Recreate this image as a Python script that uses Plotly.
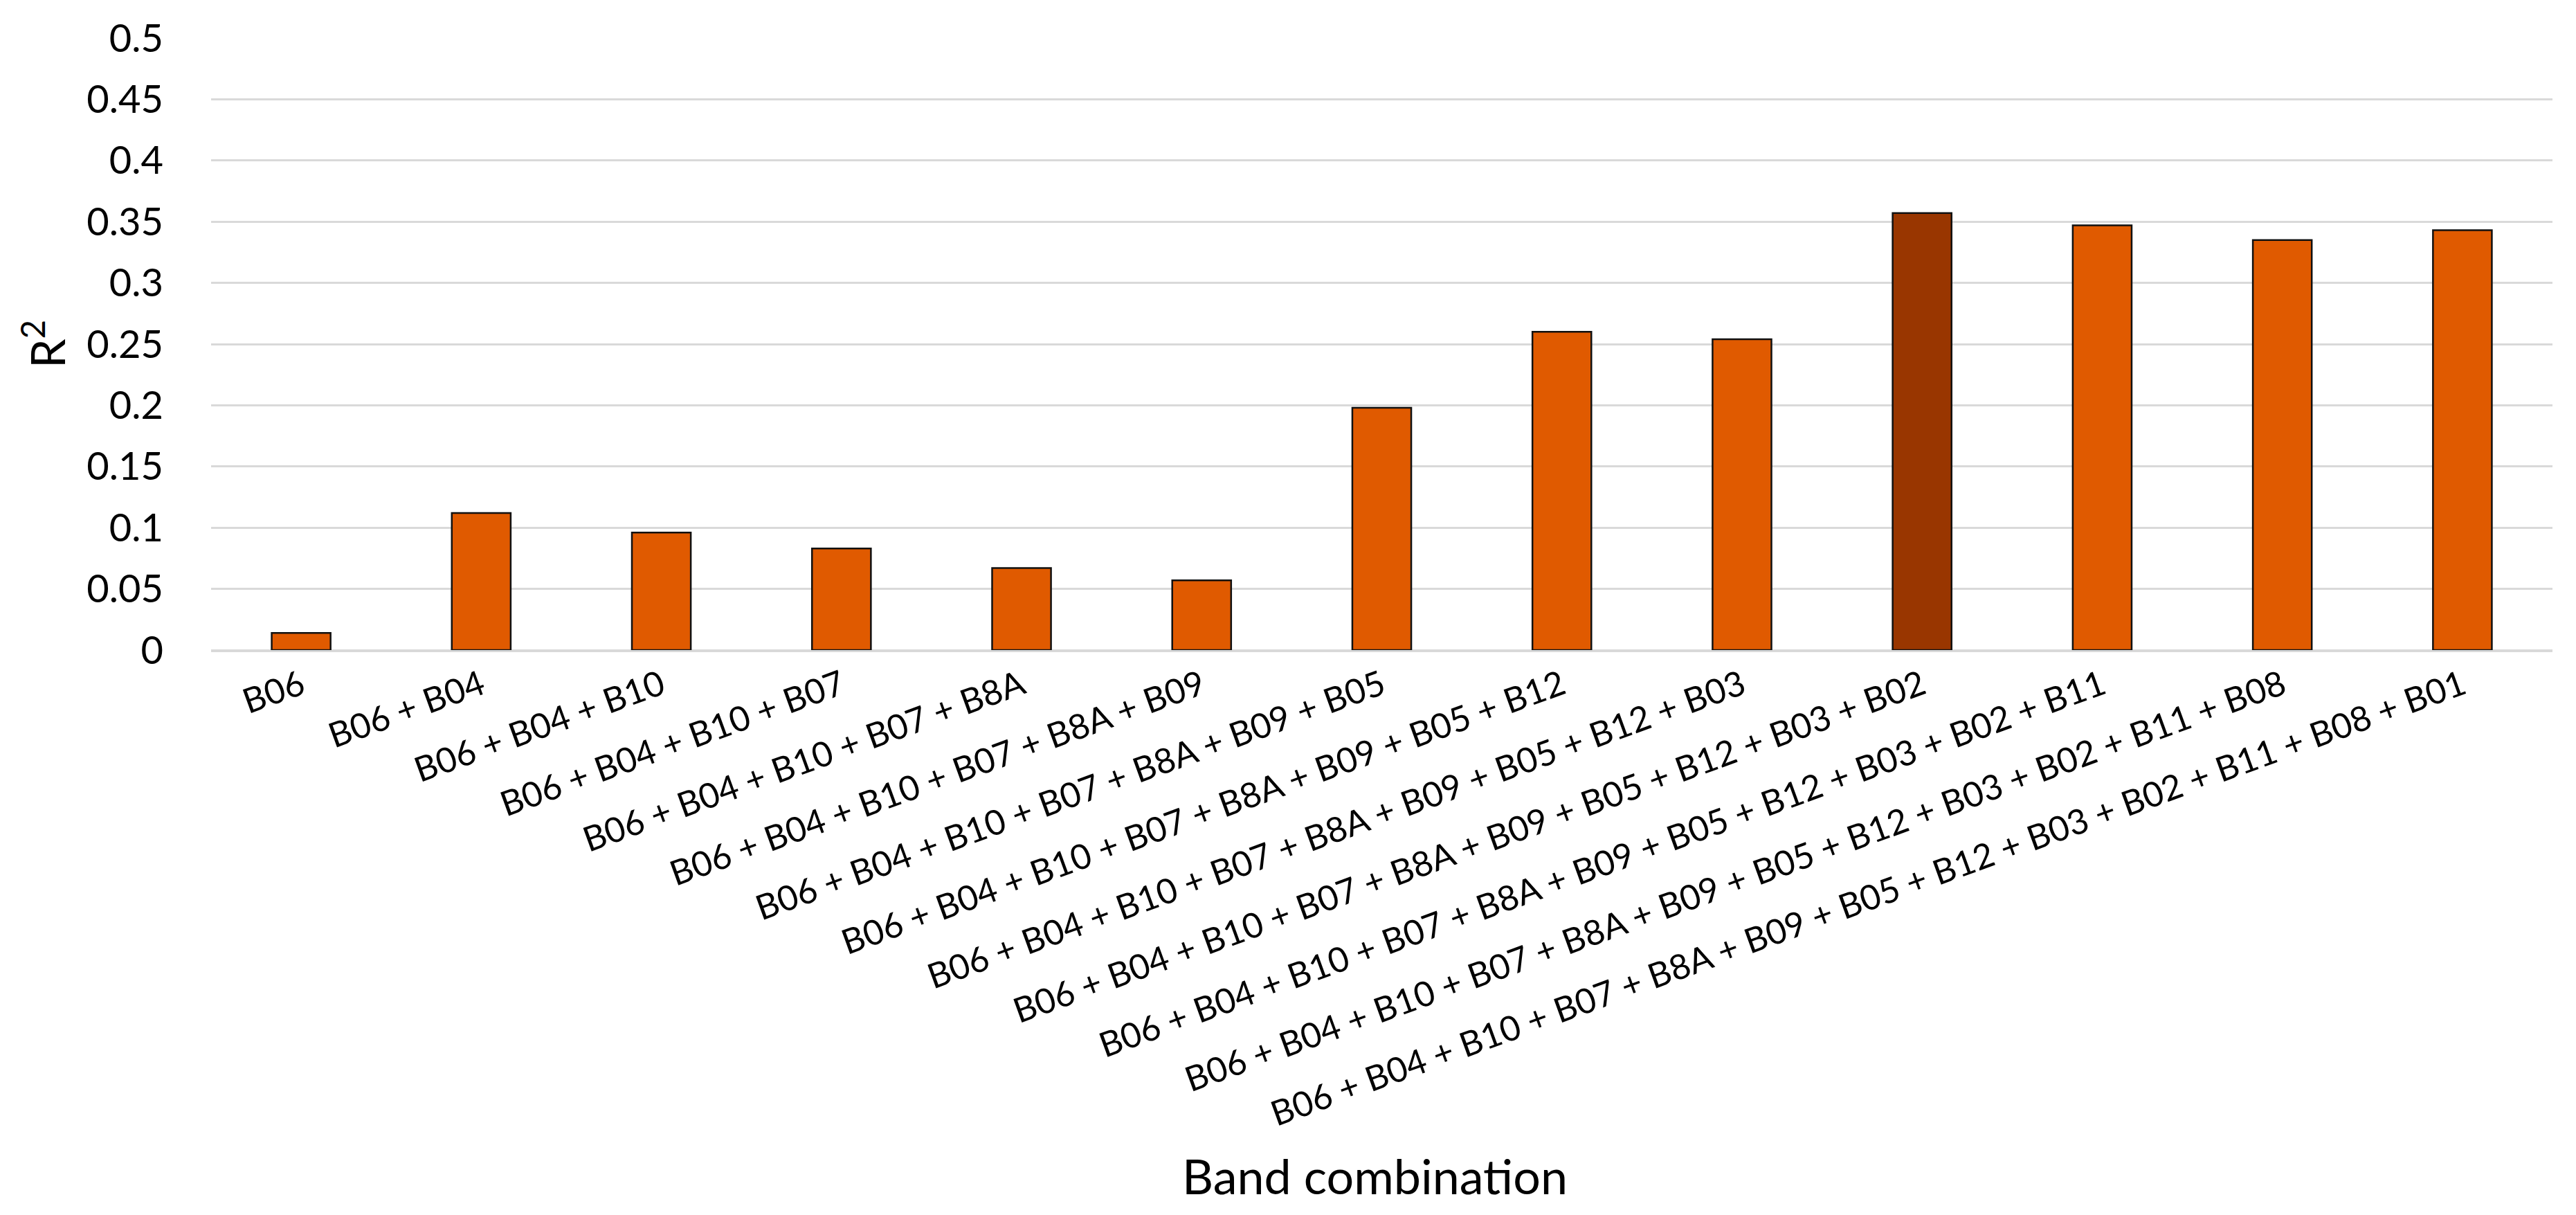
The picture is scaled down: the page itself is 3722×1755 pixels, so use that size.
import plotly.graph_objects as go

categories = [
    "B06",
    "B06 + B04",
    "B06 + B04 + B10",
    "B06 + B04 + B10 + B07",
    "B06 + B04 + B10 + B07 + B8A",
    "B06 + B04 + B10 + B07 + B8A + B09",
    "B06 + B04 + B10 + B07 + B8A + B09 + B05",
    "B06 + B04 + B10 + B07 + B8A + B09 + B05 + B12",
    "B06 + B04 + B10 + B07 + B8A + B09 + B05 + B12 + B03",
    "B06 + B04 + B10 + B07 + B8A + B09 + B05 + B12 + B03 + B02",
    "B06 + B04 + B10 + B07 + B8A + B09 + B05 + B12 + B03 + B02 + B11",
    "B06 + B04 + B10 + B07 + B8A + B09 + B05 + B12 + B03 + B02 + B11 + B08",
    "B06 + B04 + B10 + B07 + B8A + B09 + B05 + B12 + B03 + B02 + B11 + B08 + B01",
]

r2_values = [0.014, 0.112, 0.096, 0.083, 0.067, 0.057, 0.198,
             0.260, 0.254, 0.357, 0.347, 0.335, 0.343]

y_tick_vals = [0, 0.05, 0.1, 0.15, 0.2, 0.25, 0.3, 0.35, 0.4, 0.45, 0.5]
y_tick_text = ["0", "0.05", "0.1", "0.15", "0.2", "0.25", "0.3", "0.35", "0.4", "0.45", "0.5"]

x_title = "Band combination"
y_title = "R<sup>2</sup>"

ORANGE = "#E05A00"
DARK = "#993600"
best = max(r2_values)
bar_colors = [DARK if v == best else ORANGE for v in r2_values]

FONT = "Lato, 'Open Sans', sans-serif"
GRID = "#D9D9D9"

fig = go.Figure(
    go.Bar(
        x=categories,
        y=r2_values,
        marker=dict(color=bar_colors, line=dict(color="#111111", width=2.5)),
        width=0.327,
    )
)

fig.update_layout(
    width=3722,
    height=1755,
    margin=dict(l=297, r=42, t=43, b=824),
    plot_bgcolor="white",
    paper_bgcolor="white",
    showlegend=False,
    font=dict(family=FONT, color="black"),
)

fig.update_yaxes(
    range=[0, 0.5],
    tickvals=y_tick_vals,
    ticktext=y_tick_text,
    tickfont=dict(family=FONT, size=56, color="black"),
    showgrid=True,
    gridcolor=GRID,
    gridwidth=3,
    zeroline=True,
    zerolinecolor=GRID,
    zerolinewidth=3,
    showline=False,
    ticks="",
    ticklabelstandoff=68,
)

fig.update_xaxes(
    tickangle=-20,
    tickfont=dict(family=FONT, size=50, color="black"),
    showline=True,
    linecolor=GRID,
    linewidth=3,
    ticks="",
    showgrid=False,
    ticklabelstandoff=0,
)

fig.add_annotation(
    text=y_title, xref="paper", yref="paper",
    x=-(297 - 55) / 3383, y=0.5, textangle=-90, showarrow=False,
    font=dict(family=FONT, size=68, color="black"),
    xanchor="center", yanchor="middle",
)
fig.add_annotation(
    text=x_title, xref="paper", yref="paper",
    x=(1978 - 297) / 3383, y=-(1693 - 931) / 888, showarrow=False,
    font=dict(family=FONT, size=70, color="black"),
    xanchor="center", yanchor="middle",
)

fig.write_html("out.html")
